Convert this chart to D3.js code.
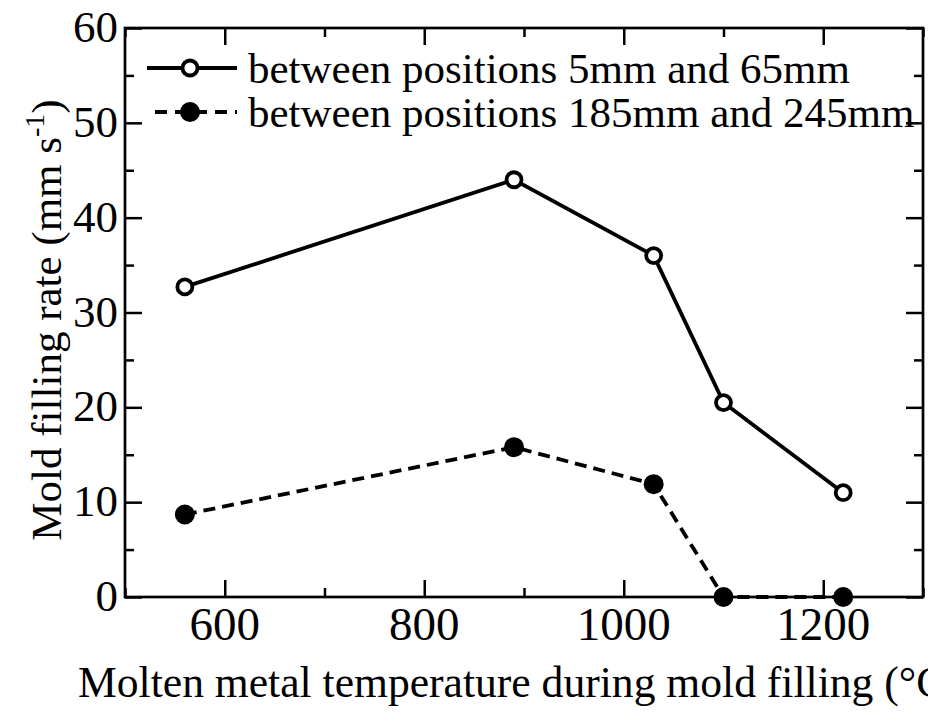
<!DOCTYPE html>
<html lang="en">
    <head>
        <meta charset="utf-8">
        <title>Mold filling rate</title>
        <script type="text/javascript" src="https://cdn.jsdelivr.net/npm/d3@7"></script>
        <style>
            body { margin: 0; background: #fff; }
        </style>
    </head>
    <body>
        <script type="text/javascript">

            // data
            var temps = [560, 890, 1030, 1100, 1220];
            var upperRate = [32.7, 44.0, 36.0, 20.5, 11.0];   // 5mm - 65mm
            var lowerRate = [8.7, 15.8, 11.9, 0, 0];          // 185mm - 245mm
            var seriesNames = ["between positions 5mm and 65mm", "between positions 185mm and 245mm"];
            var xTicks = [600, 800, 1000, 1200];
            var yTicks = [0, 10, 20, 30, 40, 50, 60];

            var w = 928;
            var h = 713;
            var pLeft = 125, pRight = 923, pTop = 28, pBottom = 597;
            var font = "'Liberation Serif', 'Times New Roman', serif";

            var svg = d3.select("body")
                .append("svg")
                .attr("width", w)
                .attr("height", h);

            var x = d3.scaleLinear().domain([500, 1300]).range([pLeft, pRight]);
            var y = d3.scaleLinear().domain([0, 60]).range([pBottom, pTop]);

            //ticks, all pointing inward
            function tickAxis(axis, scale, vals, len) {
                return axis(scale).tickValues(vals).tickSize(-len).tickFormat("");
            }
            var minorX = d3.range(500, 1301, 100).filter(function(v) { return v % 200 != 0; });
            var minorY = d3.range(5, 60, 10);

            var g = svg.append("g");
            g.append("g").attr("transform", "translate(0," + pBottom + ")").call(tickAxis(d3.axisBottom, x, xTicks, 17));
            g.append("g").attr("transform", "translate(0," + pBottom + ")").call(tickAxis(d3.axisBottom, x, minorX, 9));
            g.append("g").attr("transform", "translate(0," + pTop + ")").call(tickAxis(d3.axisTop, x, xTicks, 17));
            g.append("g").attr("transform", "translate(0," + pTop + ")").call(tickAxis(d3.axisTop, x, minorX, 9));
            g.append("g").attr("transform", "translate(" + pLeft + ",0)").call(tickAxis(d3.axisLeft, y, yTicks, 17));
            g.append("g").attr("transform", "translate(" + pLeft + ",0)").call(tickAxis(d3.axisLeft, y, minorY, 9));
            g.append("g").attr("transform", "translate(" + pRight + ",0)").call(tickAxis(d3.axisRight, y, yTicks, 17));
            g.append("g").attr("transform", "translate(" + pRight + ",0)").call(tickAxis(d3.axisRight, y, minorY, 9));
            g.selectAll(".domain").remove();
            g.selectAll(".tick line").attr("stroke", "#000").attr("stroke-width", 2.5);

            svg.append("rect")
                .attr("x", pLeft).attr("y", pTop)
                .attr("width", pRight - pLeft).attr("height", pBottom - pTop)
                .attr("fill", "none").attr("stroke", "#000").attr("stroke-width", 2.7);

            // tick labels
            svg.selectAll("text.xt")
                .data(xTicks)
                .enter()
                .append("text")
                .attr("class", "xt")
                .attr("x", function(d) { return x(d); })
                .attr("y", 640)
                .attr("text-anchor", "middle")
                .attr("font-family", font)
                .attr("font-size", 47)
                .text(function(d) { return d; });

            svg.selectAll("text.yt")
                .data(yTicks)
                .enter()
                .append("text")
                .attr("class", "yt")
                .attr("x", 118)
                .attr("y", function(d) { return y(d) + 14; })
                .attr("text-anchor", "end")
                .attr("font-family", font)
                .attr("font-size", 45)
                .text(function(d) { return d; });

            // axis titles
            svg.append("text")
                .attr("x", 78).attr("y", 697)
                .attr("font-family", font).attr("font-size", 43.6)
                .text("Molten metal temperature during mold filling (\u00B0C)");

            var yl = svg.append("text")
                .attr("transform", "translate(61," + 320 + ") rotate(-90)")
                .attr("text-anchor", "middle")
                .attr("font-family", font).attr("font-size", 43);
            yl.append("tspan").text("Mold filling rate (mm s");
            yl.append("tspan").attr("dy", -17).attr("font-size", 28).text("-1");
            yl.append("tspan").attr("dy", 17).text(")");

            // lines
            var line = d3.line()
                .x(function(d) { return x(d[0]); })
                .y(function(d) { return y(d[1]); });

            var upper = d3.zip(temps, upperRate);
            var lower = d3.zip(temps, lowerRate);

            svg.append("path")
                .attr("d", line(lower))
                .attr("fill", "none").attr("stroke", "#000")
                .attr("stroke-width", 3.8).attr("stroke-dasharray", "12,7");
            svg.selectAll("circle.lo")
                .data(lower)
                .enter()
                .append("circle")
                .attr("class", "lo")
                .attr("cx", function(d) { return x(d[0]); })
                .attr("cy", function(d) { return y(d[1]); })
                .attr("r", 10)
                .attr("fill", "#000");

            svg.append("path")
                .attr("d", line(upper))
                .attr("fill", "none").attr("stroke", "#000")
                .attr("stroke-width", 3.8);
            svg.selectAll("circle.up")
                .data(upper)
                .enter()
                .append("circle")
                .attr("class", "up")
                .attr("cx", function(d) { return x(d[0]); })
                .attr("cy", function(d) { return y(d[1]); })
                .attr("r", 7.5)
                .attr("fill", "#fff").attr("stroke", "#000").attr("stroke-width", 3.8);

            // legend
            var leg = svg.append("g");
            leg.append("line").attr("x1", 147).attr("x2", 237).attr("y1", 68).attr("y2", 68)
                .attr("stroke", "#000").attr("stroke-width", 3.8);
            leg.append("circle").attr("cx", 190).attr("cy", 68).attr("r", 7.5)
                .attr("fill", "#fff").attr("stroke", "#000").attr("stroke-width", 3.8);
            leg.append("line").attr("x1", 155).attr("x2", 237).attr("y1", 112).attr("y2", 112)
                .attr("stroke", "#000").attr("stroke-width", 3.8).attr("stroke-dasharray", "12,8");
            leg.append("circle").attr("cx", 190).attr("cy", 112).attr("r", 10).attr("fill", "#000");
            leg.selectAll("text")
                .data(seriesNames)
                .enter()
                .append("text")
                .attr("x", 248)
                .attr("y", function(d, i) { return 83 + i * 44; })
                .attr("font-family", font)
                .attr("font-size", 43)
                .text(function(d) { return d; });

        </script>
    </body>
</html>
